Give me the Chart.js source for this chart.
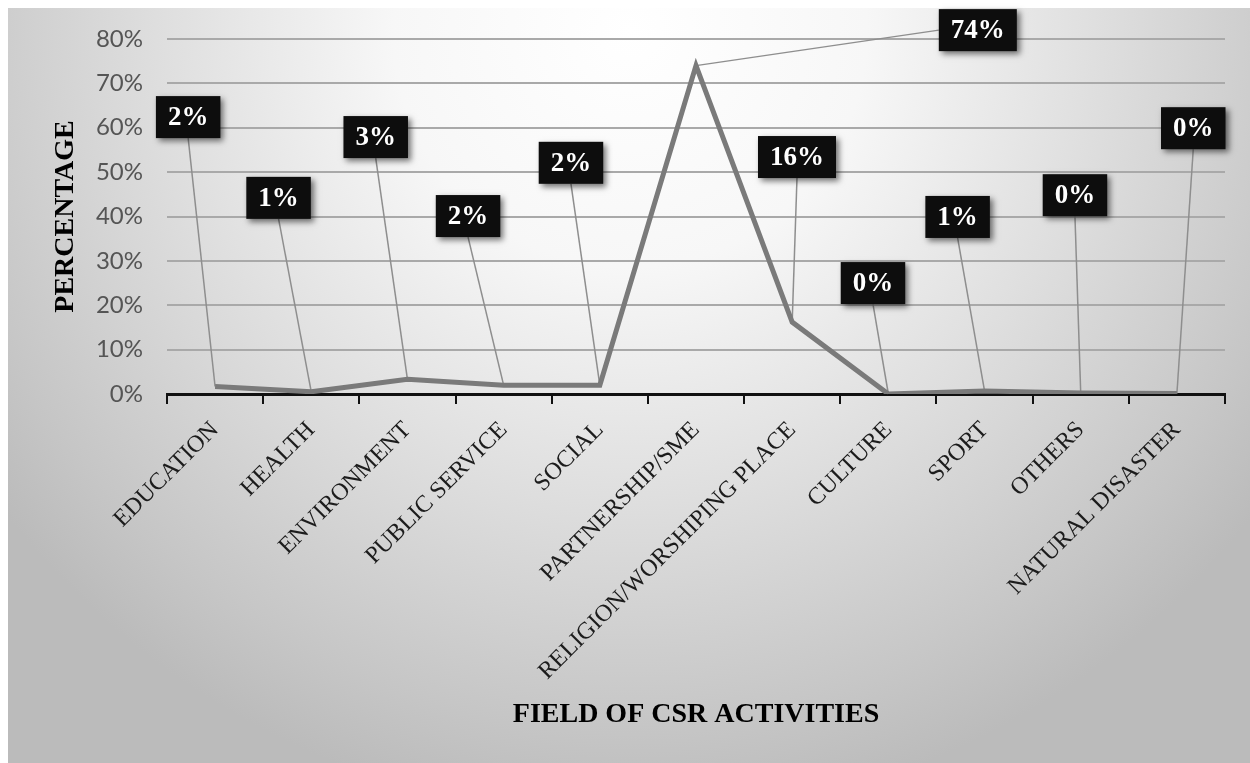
<!DOCTYPE html>
<html><head><meta charset="utf-8">
<script src="https://cdn.jsdelivr.net/npm/chart.js@4"></script>
<style>html,body{margin:0;padding:0;background:#fff}#wrap{width:1250px;height:763px}</style>
</head><body><div id="wrap"><canvas id="c" width="1250" height="763"></canvas></div>
<script>
// ---- data ----
const categories = ['EDUCATION','HEALTH','ENVIRONMENT','PUBLIC SERVICE','SOCIAL','PARTNERSHIP/SME','RELIGION/WORSHIPING PLACE','CULTURE','SPORT','OTHERS','NATURAL DISASTER'];
const percentages = [1.7, 0.5, 3.3, 2.0, 2.0, 74, 16.2, 0, 0.7, 0.2, 0.1];
const yTicks = [0, 10, 20, 30, 40, 50, 60, 70, 80];
const xTitle = 'FIELD OF CSR ACTIVITIES';
const yTitle = 'PERCENTAGE';

// ---- callout placement (layout only: category offset, level in axis %) ----
const calloutShift = [-0.28, -0.34, -0.33, -0.37, -0.30, 2.93, 0.05, -0.16, -0.28, -0.06, 0.17];
const calloutLevel = [62.4, 44.2, 57.9, 40.1, 52.1, 82.0, 53.4, 25.0, 39.9, 44.8, 59.9];

const bgPlugin = {
  id: 'bg',
  beforeDraw(chart) {
    const {ctx, width, height} = chart;
    ctx.save();
    ctx.fillStyle = '#ffffff';
    ctx.fillRect(0, 0, width, height);
    const cx = 630, cy = 30, R = 790;
    ctx.translate(cx, cy);
    ctx.scale(R, R);
    const g = ctx.createRadialGradient(0, 0, 0, 0, 0, 1);
    g.addColorStop(0, '#ffffff');
    g.addColorStop(0.3, '#f7f7f7');
    g.addColorStop(0.6, '#dedede');
    g.addColorStop(0.88, '#c6c6c6');
    g.addColorStop(1, '#bbbbbb');
    ctx.fillStyle = g;
    ctx.fillRect((8 - cx) / R, (8 - cy) / R, (width - 8) / R, (height - 8) / R);
    ctx.restore();
  }
};

function calloutBoxes(chart) {
  const {ctx} = chart;
  const xs = chart.scales.x, ys = chart.scales.y;
  const meta = chart.getDatasetMeta(0);
  const step = xs.getPixelForValue(1) - xs.getPixelForValue(0);
  ctx.save();
  ctx.font = 'bold 27px "Liberation Serif"';
  const out = meta.data.map((pt, i) => {
    const txt = Math.round(percentages[i]) + '%';
    const cx = pt.x + calloutShift[i] * step;
    const cy = ys.getPixelForValue(calloutLevel[i]);
    const w = ctx.measureText(txt).width + 24, h = 42;
    return {pt, txt, cx, cy, w, h, bx: cx - w / 2, by: cy - h / 2};
  });
  ctx.restore();
  return out;
}

const calloutPlugin = {
  id: 'callouts',
  beforeDatasetsDraw(chart) {
    const {ctx} = chart;
    ctx.save();
    ctx.strokeStyle = '#8e8e8e';
    ctx.lineWidth = 1.5;
    calloutBoxes(chart).forEach(b => {
      const dx = b.pt.x - b.cx, dy = b.pt.y - b.cy;
      let sx, sy;
      if (Math.abs(dx) > Math.abs(dy)) { sx = dx < 0 ? b.bx : b.bx + b.w; sy = b.cy; }
      else { sx = b.cx; sy = b.by + b.h; }
      ctx.beginPath();
      ctx.moveTo(sx, sy);
      ctx.lineTo(b.pt.x, b.pt.y);
      ctx.stroke();
    });
    ctx.restore();
  },
  afterDatasetsDraw(chart) {
    const {ctx} = chart;
    ctx.save();
    ctx.font = 'bold 27px "Liberation Serif"';
    ctx.textAlign = 'center';
    ctx.textBaseline = 'middle';
    calloutBoxes(chart).forEach(b => {
      ctx.save();
      ctx.shadowColor = 'rgba(0,0,0,0.55)';
      ctx.shadowBlur = 6;
      ctx.shadowOffsetX = 3;
      ctx.shadowOffsetY = 3;
      ctx.fillStyle = '#0d0d0d';
      ctx.fillRect(b.bx, b.by, b.w, b.h);
      ctx.restore();
      ctx.fillStyle = '#ffffff';
      ctx.fillText(b.txt, b.cx, b.cy + 1);
    });
    ctx.restore();
  }
};

new Chart(document.getElementById('c'), {
  type: 'line',
  data: {
    labels: categories,
    datasets: [{
      data: percentages,
      borderColor: '#7a7a7a',
      borderWidth: 5,
      pointRadius: 0,
      tension: 0,
      fill: false
    }]
  },
  options: {
    responsive: false,
    animation: false,
    devicePixelRatio: 1,
    layout: {padding: {top: 39, right: 25, left: 0, bottom: 0}},
    plugins: {legend: {display: false}, tooltip: {enabled: false}},
    scales: {
      x: {
        offset: true,
        grid: {offset: true, drawOnChartArea: false, drawTicks: true, tickLength: 10, color: '#111', lineWidth: 2},
        border: {display: true, color: '#111', width: 3},
        ticks: {autoSkip: false, minRotation: 45, maxRotation: 45, color: '#1c1c1c',
                font: {family: 'Liberation Serif', size: 24}, padding: 12},
        title: {display: true, text: xTitle, color: '#000',
                font: {family: 'Liberation Serif', size: 28, weight: 'bold', lineHeight: 1},
                padding: {top: 0, bottom: 34}},
        afterFit(s) { s.height = 369; }
      },
      y: {
        min: 0, max: 80,
        afterBuildTicks(s) { s.ticks = yTicks.map(v => ({value: v})); },
        ticks: {callback: v => v + '%', color: '#555555', font: {family: 'Lato', size: 24}, padding: 24},
        grid: {color: '#a9a9a9', lineWidth: 2, drawTicks: false},
        border: {display: false},
        title: {display: true, text: yTitle, color: '#000',
                font: {family: 'Liberation Serif', size: 28, weight: 'bold', lineHeight: 1},
                padding: {top: 52, bottom: 0}},
        afterFit(s) { s.width = 167; }
      }
    }
  },
  plugins: [bgPlugin, calloutPlugin]
});
</script>
</body></html>
